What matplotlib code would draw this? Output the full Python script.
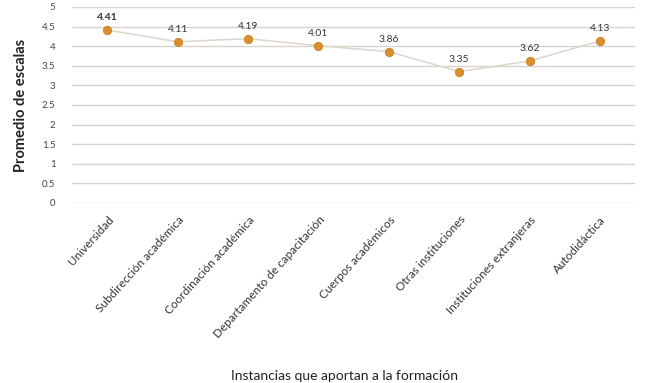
import matplotlib
matplotlib.use("Agg")
import matplotlib.pyplot as plt

categories = ["Universidad", "Subdirección académica", "Coordinación académica",
              "Departamento de capacitación", "Cuerpos académicos",
              "Otras instituciones", "Instituciones extranjeras", "Autodidáctica"]
values = [4.41, 4.11, 4.19, 4.01, 3.86, 3.35, 3.62, 4.13]
value_labels = ["4.41", "4.11", "4.19", "4.01", "3.86", "3.35", "3.62", "4.13"]
yticks = [0, 0.5, 1, 1.5, 2, 2.5, 3, 3.5, 4, 4.5, 5]
ytick_labels = ["0", "0.5", "1", "1.5", "2", "2.5", "3", "3.5", "4", "4.5", "5"]

plt.rcParams['font.family'] = ['Lato', 'DejaVu Sans']

fig = plt.figure(figsize=(6.5, 3.83), dpi=100)
ax = fig.add_axes([0.111, 0.47, 0.866, 0.512])

x = list(range(len(categories)))
ax.plot(x, values, color="#dcd6cc", linewidth=1.1, zorder=2)
ax.scatter(x, values, s=36, color="#d98f2e", edgecolor="#c98226", linewidth=0.6, zorder=3)
for xi, v, lab in zip(x, values, value_labels):
    ax.annotate(lab, (xi, v), xytext=(0, 5.5), textcoords="offset points",
                ha="center", va="bottom", fontsize=7.5, color="#333333",
                fontweight="bold" if xi == 0 else "normal")

ax.set_xlim(-0.5, len(categories) - 0.5)
ax.set_ylim(0, 5)
ax.set_yticks(yticks)
ax.set_yticklabels(ytick_labels, fontsize=7, color="#444444")
ax.set_xticks(x)
ax.set_xticklabels(categories, rotation=48, ha="right", rotation_mode="anchor",
                   fontsize=8.5, color="#333333")
ax.tick_params(axis="both", length=0)
ax.tick_params(axis="x", pad=8)
ax.tick_params(axis="y", pad=12)
ax.grid(axis="y", color="#d8d4cc", linewidth=1.0, zorder=0)
ax.set_axisbelow(True)
for s in ax.spines.values():
    s.set_visible(False)

ax.set_ylabel("Promedio de escalas", fontsize=10.5, fontweight="bold", color="#222222", labelpad=10)
fig.text(0.53, 0.002, "Instancias que aportan a la formación", ha="center", va="bottom",
         fontsize=10, color="#222222")

fig.savefig("out.png", dpi=100, facecolor="white")
